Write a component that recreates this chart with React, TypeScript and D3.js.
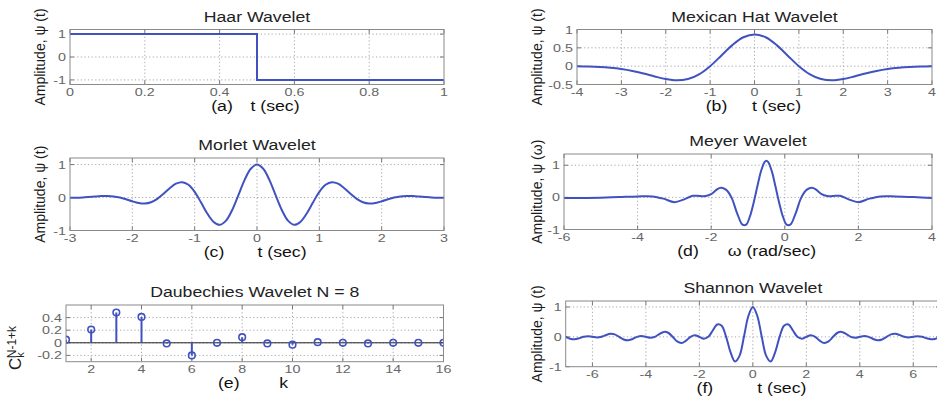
import React from 'react';
import * as d3 from 'd3';

// ---------- data ----------
const haarT = [0, 0.5, 0.5, 1];
const haarY = [1, 1, -1, -1];

const mexT = [-4, -3.75, -3.5, -3.25, -3, -2.75, -2.5, -2.25, -2, -1.75, -1.5, -1.25, -1, -0.75, -0.5, -0.25, 0,
  0.25, 0.5, 0.75, 1, 1.25, 1.5, 1.75, 2, 2.25, 2.5, 2.75, 3, 3.25, 3.5, 3.75, 4];
const mexY = [-0.004, -0.010, -0.021, -0.042, -0.077, -0.130, -0.200, -0.280, -0.352, -0.387, -0.352, -0.223, 0.000, 0.286, 0.574, 0.788, 0.867,
  0.788, 0.574, 0.286, 0.000, -0.223, -0.352, -0.387, -0.352, -0.280, -0.200, -0.130, -0.077, -0.042, -0.021, -0.010, -0.004];

const morletT = [-3, -2.9, -2.8, -2.7, -2.6, -2.5, -2.4, -2.3, -2.2, -2.1, -2, -1.9, -1.8, -1.7, -1.6, -1.5, -1.4, -1.3, -1.2, -1.1,
  -1, -0.9, -0.8, -0.7, -0.6, -0.5, -0.4, -0.3, -0.2, -0.1, 0, 0.1, 0.2, 0.3, 0.4, 0.5, 0.6, 0.7, 0.8, 0.9, 1,
  1.1, 1.2, 1.3, 1.4, 1.5, 1.6, 1.7, 1.8, 1.9, 2, 2.1, 2.2, 2.3, 2.4, 2.5, 2.6, 2.7, 2.8, 2.9, 3];
const morletY = [-0.008, -0.005, 0.003, 0.016, 0.031, 0.044, 0.047, 0.034, 0.000, -0.052, -0.114, -0.164, -0.180, -0.142, -0.040, 0.113, 0.283, 0.420, 0.467, 0.387,
  0.172, -0.141, -0.475, -0.733, -0.827, -0.707, -0.384, 0.068, 0.530, 0.873, 1.000, 0.873, 0.530, 0.068, -0.384, -0.707, -0.827, -0.733, -0.475, -0.141, 0.172,
  0.387, 0.467, 0.420, 0.283, 0.113, -0.040, -0.142, -0.180, -0.164, -0.114, -0.052, 0.000, 0.034, 0.047, 0.044, 0.031, 0.016, 0.003, -0.005, -0.008];

const meyerW = [-6, -5.5, -5, -4.5, -4, -3.6, -3.3, -3.0, -2.75, -2.5, -2.3, -2.15, -2.0, -1.85, -1.74, -1.6, -1.45, -1.3, -1.15, -1.05,
  -0.95, -0.85, -0.75, -0.65, -0.55, -0.5, -0.45, -0.35, -0.25, -0.15, -0.05, 0.05, 0.15, 0.3, 0.45, 0.6, 0.74, 0.85, 1.0, 1.15,
  1.3, 1.5, 1.75, 2.0, 2.3, 2.6, 3.0, 3.5, 4.0];
const meyerY = [-0.02, -0.02, -0.01, 0.01, 0.03, 0.03, -0.04, -0.15, -0.07, 0.05, 0.04, 0.04, 0.1, 0.24, 0.3, 0.24, 0.0, -0.48, -0.85, -0.85,
  -0.6, -0.18, 0.32, 0.8, 1.1, 1.14, 1.1, 0.8, 0.32, -0.18, -0.6, -0.85, -0.85, -0.48, 0.0, 0.24, 0.3, 0.24, 0.1, 0.04,
  0.04, 0.05, -0.07, -0.15, -0.04, 0.03, 0.03, 0.01, -0.02];

const daubK = [1, 2, 3, 4, 5, 6, 7, 8, 9, 10, 11, 12, 13, 14, 15, 16];
const daubC = [0.05, 0.21, 0.48, 0.41, -0.01, -0.2, 0.0, 0.09, -0.01, -0.03, 0.01, 0.0, -0.01, 0.0, 0.0, 0.0];

const shannonT = [-7, -6.833, -6.667, -6.5, -6.333, -6.167, -6, -5.833, -5.667, -5.5, -5.333, -5.167,
  -5, -4.833, -4.667, -4.5, -4.333, -4.167, -4, -3.833, -3.667, -3.5, -3.333, -3.167,
  -3, -2.833, -2.667, -2.5, -2.333, -2.167, -2, -1.833, -1.667, -1.5, -1.333, -1.167,
  -1, -0.833, -0.667, -0.5, -0.333, -0.167, 0, 0.167, 0.333, 0.5, 0.667, 0.833,
  1, 1.167, 1.333, 1.5, 1.667, 1.833, 2, 2.167, 2.333, 2.5, 2.667, 2.833,
  3, 3.167, 3.333, 3.5, 3.667, 3.833, 4, 4.167, 4.333, 4.5, 4.667, 4.833,
  5, 5.167, 5.333, 5.5, 5.667, 5.833, 6, 6.167, 6.333, 6.5, 6.667, 6.833, 7];
const shannonY = [0.000, -0.064, -0.083, -0.049, 0.000, 0.019, 0.000, -0.020, 0.000, 0.058, 0.103, 0.084,
  0.000, -0.090, -0.118, -0.071, 0.000, 0.028, 0.000, -0.030, 0.000, 0.091, 0.165, 0.137,
  0.000, -0.153, -0.207, -0.127, 0.000, 0.054, 0.000, -0.064, 0.000, 0.212, 0.414, 0.373,
  0.000, -0.522, -0.827, -0.637, 0.000, 0.699, 1.000, 0.699, 0.000, -0.637, -0.827, -0.522,
  0.000, 0.373, 0.414, 0.212, 0.000, -0.064, 0.000, 0.054, 0.000, -0.127, -0.207, -0.153,
  0.000, 0.137, 0.165, 0.091, 0.000, -0.030, 0.000, 0.028, 0.000, -0.071, -0.118, -0.090,
  0.000, 0.084, 0.103, 0.058, 0.000, -0.020, 0.000, 0.019, 0.000, -0.049, -0.083, -0.064, 0.000];

const ticksA = { x: [0, 0.2, 0.4, 0.6, 0.8, 1], y: [-1, 0, 1] };
const ticksB = { x: [-4, -3, -2, -1, 0, 1, 2, 3, 4], y: [-0.5, 0, 0.5, 1] };
const ticksC = { x: [-3, -2, -1, 0, 1, 2, 3], y: [-1, 0, 1] };
const ticksD = { x: [-6, -4, -2, 0, 2, 4], y: [-1, 0, 1] };
const ticksE = { x: [2, 4, 6, 8, 10, 12, 14, 16], y: [-0.2, 0, 0.2, 0.4] };
const ticksF = { x: [-6, -4, -2, 0, 2, 4, 6], y: [-1, 0, 1] };

// ---------- styling ----------
const FONT = "'Liberation Sans', Arial, Helvetica, sans-serif";
const BLUE = '#4052c0';
const fmt = (v: number) => String(+v.toFixed(2));

type Layout = { left: number; right: number; top: number; bottom: number; ylabX: number; letterDx: number; labelDx: number };

function Txt({ x, y, sx = 1, anchor = 'middle', size, fill = '#222', rotate = false, weight = 'normal', children }: any) {
  const tr = `translate(${x},${y})${sx !== 1 ? ` scale(${sx},1)` : ''}${rotate ? ' rotate(-90)' : ''}`;
  return (
    <text transform={tr} textAnchor={anchor} fontSize={size} fill={fill} fontFamily={FONT} fontWeight={weight}>
      {children}
    </text>
  );
}

function Panel({ id, L, xDomain, yDomain, ticks, title, letter, xLabel, yLabel, draw }: any) {
  const lay = L as Layout;
  const x = d3.scaleLinear().domain(xDomain).range([lay.left, lay.right]);
  const y = d3.scaleLinear().domain(yDomain).range([lay.bottom, lay.top]);
  const cx = (lay.left + lay.right) / 2;
  const cy = (lay.top + lay.bottom) / 2;
  const eps = 1e-9;
  const inX = (v: number) => v > xDomain[0] + eps && v < xDomain[1] - eps;
  const inY = (v: number) => v > yDomain[0] + eps && v < yDomain[1] - eps;
  return (
    <g>
      <defs>
        <clipPath id={`clip-${id}`}>
          <rect x={lay.left} y={lay.top - 2} width={lay.right - lay.left} height={lay.bottom - lay.top + 4} />
        </clipPath>
      </defs>
      <rect x={lay.left} y={lay.top} width={lay.right - lay.left} height={lay.bottom - lay.top} fill="#fff" />
      {ticks.x.filter(inX).map((v: number) => (
        <line key={`gx${v}`} x1={x(v)} x2={x(v)} y1={lay.top} y2={lay.bottom} stroke="#a8a8a8" strokeWidth={1} strokeDasharray="1.2,2.4" />
      ))}
      {ticks.y.filter(inY).map((v: number) => (
        <line key={`gy${v}`} x1={lay.left} x2={lay.right} y1={y(v)} y2={y(v)} stroke="#a8a8a8" strokeWidth={1} strokeDasharray="1.2,2.4" />
      ))}
      {ticks.x.map((v: number) => (
        <g key={`tx${v}`}>
          <line x1={x(v)} x2={x(v)} y1={lay.bottom} y2={lay.bottom - 4} stroke="#777" />
          <line x1={x(v)} x2={x(v)} y1={lay.top} y2={lay.top + 4} stroke="#777" />
        </g>
      ))}
      {ticks.y.map((v: number) => (
        <g key={`ty${v}`}>
          <line x1={lay.left} x2={lay.left + 4} y1={y(v)} y2={y(v)} stroke="#777" />
          <line x1={lay.right} x2={lay.right - 4} y1={y(v)} y2={y(v)} stroke="#777" />
        </g>
      ))}
      <g clipPath={`url(#clip-${id})`}>{draw(x, y)}</g>
      <rect x={lay.left} y={lay.top} width={lay.right - lay.left} height={lay.bottom - lay.top} fill="none" stroke="#8a8a8a" strokeWidth={1} />
      {ticks.x.map((v: number) => (
        <Txt key={`lx${v}`} x={x(v)} y={lay.bottom + 11.5} sx={1.3} size={11} fill="#666">{fmt(v)}</Txt>
      ))}
      {ticks.y.map((v: number) => (
        <Txt key={`ly${v}`} x={lay.left - 4} y={y(v) + 4} sx={1.3} size={11} fill="#666" anchor="end">{fmt(v)}</Txt>
      ))}
      <Txt x={cx} y={lay.top - 8} sx={1.18} size={15} fill="#222">{title}</Txt>
      <Txt x={cx + lay.letterDx} y={lay.bottom + 26.5} sx={1.18} size={15} fill="#111">{letter}</Txt>
      <Txt x={cx + lay.labelDx} y={lay.bottom + 26.5} sx={1.18} size={15} fill="#111">{xLabel}</Txt>
      {yLabel ? (
        <Txt x={lay.ylabX} y={cy} size={14} fill="#1a1a1a" rotate>{yLabel}</Txt>
      ) : null}
    </g>
  );
}

const smooth = (xs: number[], ys: number[]) => (x: any, y: any) => {
  const line = d3.line<number>().x((_, i) => x(xs[i])).y((d) => y(d)).curve(d3.curveCatmullRom.alpha(0.5));
  return <path d={line(ys) || ''} fill="none" stroke={BLUE} strokeWidth={2} strokeLinejoin="round" />;
};

const haarDraw = (x: any, y: any) => {
  const line = d3.line<number>().x((_, i) => x(haarT[i])).y((d) => y(d));
  return <path d={line(haarY) || ''} fill="none" stroke={BLUE} strokeWidth={2} />;
};

const daubDraw = (x: any, y: any) => (
  <g>
    <line x1={x.range()[0]} x2={x.range()[1]} y1={y(0)} y2={y(0)} stroke="#222" strokeWidth={1} />
    {daubK.map((k, i) => (
      <g key={k}>
        <line x1={x(k)} x2={x(k)} y1={y(0)} y2={y(daubC[i])} stroke={BLUE} strokeWidth={2} />
        <circle cx={x(k)} cy={y(daubC[i])} r={3.3} fill="none" stroke={BLUE} strokeWidth={1.6} />
      </g>
    ))}
  </g>
);

export default function App() {
  const LA: Layout = { left: 70, right: 444, top: 29.5, bottom: 84.5, ylabX: 45, letterDx: -35, labelDx: 18 };
  const LB: Layout = { left: 577, right: 932, top: 29.5, bottom: 84.5, ylabX: 541.5, letterDx: -38, labelDx: 22 };
  const LC: Layout = { left: 70, right: 444, top: 158, bottom: 230.5, ylabX: 45, letterDx: -43, labelDx: 25 };
  const LD: Layout = { left: 564, right: 932, top: 154, bottom: 229.5, ylabX: 541.5, letterDx: -60, labelDx: 24 };
  const LE: Layout = { left: 66, right: 443.5, top: 305, bottom: 361.7, ylabX: 0, letterDx: -26, labelDx: 29 };
  const LF: Layout = { left: 565.7, right: 940, top: 301, bottom: 366.7, ylabX: 541.5, letterDx: -48, labelDx: 29 };
  return (
    <svg width={937} height={398} style={{ position: 'absolute', left: 0, top: 0, background: '#fff' }}>
      <rect width={937} height={398} fill="#fff" />
      <Panel id="a" L={LA} xDomain={[0, 1]} yDomain={[-1.2, 1.2]} ticks={ticksA} title="Haar Wavelet" letter="(a)" xLabel="t (sec)" yLabel="Amplitude, ψ (t)" draw={haarDraw} />
      <Panel id="b" L={LB} xDomain={[-4, 4]} yDomain={[-0.5, 1]} ticks={ticksB} title="Mexican Hat Wavelet" letter="(b)" xLabel="t (sec)" yLabel="Amplitude, ψ (t)" draw={smooth(mexT, mexY)} />
      <Panel id="c" L={LC} xDomain={[-3, 3]} yDomain={[-1, 1.2]} ticks={ticksC} title="Morlet Wavelet" letter="(c)" xLabel="t (sec)" yLabel="Amplitude, ψ (t)" draw={smooth(morletT, morletY)} />
      <Panel id="d" L={LD} xDomain={[-6, 4]} yDomain={[-1, 1.35]} ticks={ticksD} title="Meyer Wavelet" letter="(d)" xLabel="ω (rad/sec)" yLabel="Amplitude, ψ (ω)" draw={smooth(meyerW, meyerY)} />
      <Panel id="e" L={LE} xDomain={[1, 16]} yDomain={[-0.3, 0.6]} ticks={ticksE} title="Daubechies Wavelet N = 8" letter="(e)" xLabel="k" yLabel={null} draw={daubDraw} />
      <Panel id="f" L={LF} xDomain={[-7, 7]} yDomain={[-1, 1.2]} ticks={ticksF} title="Shannon Wavelet" letter="(f)" xLabel="t (sec)" yLabel="Amplitude, ψ (t)" draw={smooth(shannonT, shannonY)} />
      <text transform="translate(21,370) rotate(-90)" fontFamily={FONT} fill="#222">
        <tspan fontSize={17}>C</tspan>
        <tspan fontSize={11} dy={3}>k</tspan>
        <tspan fontSize={12} dx={-6} dy={-8}>N-1+k</tspan>
      </text>
    </svg>
  );
}
